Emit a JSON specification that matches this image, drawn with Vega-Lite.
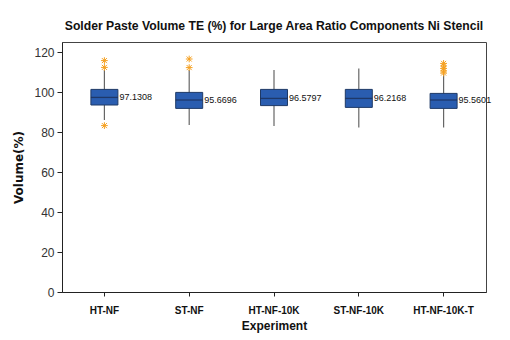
{
  "$schema": "https://vega.github.io/schema/vega-lite/v6.json",
  "width": 424,
  "height": 250,
  "autosize": "none",
  "padding": {"left": 62, "top": 42, "right": 24, "bottom": 48},
  "background": "white",
  "title": {
    "text": "Solder Paste Volume TE (%) for Large Area Ratio Components Ni Stencil",
    "font": "Liberation Sans",
    "fontSize": 12.2,
    "fontWeight": "bold",
    "color": "#111",
    "anchor": "middle",
    "offset": 10
  },
  "config": {
    "view": {"stroke": "#444", "strokeWidth": 1}
  },
  "datasets": {
    "boxes": [
      {"experiment": "HT-NF", "lo": 86, "q1": 93.5, "median": 97.3, "q3": 101.3, "hi": 111, "label": "97.1308"},
      {"experiment": "ST-NF", "lo": 83.5, "q1": 91.8, "median": 96.0, "q3": 99.8, "hi": 111, "label": "95.6696"},
      {"experiment": "HT-NF-10K", "lo": 83, "q1": 93.2, "median": 96.8, "q3": 101.3, "hi": 111, "label": "96.5797"},
      {"experiment": "ST-NF-10K", "lo": 82.2, "q1": 92.3, "median": 96.8, "q3": 101.3, "hi": 111.8, "label": "96.2168"},
      {"experiment": "HT-NF-10K-T", "lo": 82.2, "q1": 91.8, "median": 96.0, "q3": 99.3, "hi": 109, "label": "95.5601"}
    ],
    "outliers": [
      {"experiment": "HT-NF", "value": 115.7},
      {"experiment": "HT-NF", "value": 112.3},
      {"experiment": "HT-NF", "value": 83.2},
      {"experiment": "ST-NF", "value": 116.5},
      {"experiment": "ST-NF", "value": 112.2},
      {"experiment": "HT-NF-10K-T", "value": 114.3},
      {"experiment": "HT-NF-10K-T", "value": 113.0},
      {"experiment": "HT-NF-10K-T", "value": 111.8},
      {"experiment": "HT-NF-10K-T", "value": 110.5},
      {"experiment": "HT-NF-10K-T", "value": 109.5}
    ]
  },
  "encoding": {
    "x": {
      "field": "experiment",
      "type": "nominal",
      "scale": {"domain": ["HT-NF", "ST-NF", "HT-NF-10K", "ST-NF-10K", "HT-NF-10K-T"], "paddingInner": 0, "paddingOuter": 0},
      "axis": {
        "title": "Experiment",
        "labelAngle": 0,
        "labelFont": "Liberation Sans",
        "labelFontWeight": "bold",
        "labelFontSize": 10,
        "labelColor": "#111",
        "labelPadding": 9,
        "titleFont": "Liberation Sans",
        "titleFontWeight": "bold",
        "titleFontSize": 12,
        "titleColor": "#111",
        "titlePadding": 5,
        "tickSize": 4,
        "tickColor": "#222",
        "domainColor": "#222"
      }
    }
  },
  "layer": [
    {
      "data": {"name": "boxes"},
      "mark": {"type": "rule", "color": "#666", "strokeWidth": 1.2},
      "encoding": {
        "y": {
          "field": "lo",
          "type": "quantitative",
          "scale": {"domain": [0, 125], "nice": false},
          "axis": {
            "title": "Volume(%)",
            "values": [0, 20, 40, 60, 80, 100, 120],
            "grid": false,
            "labelFont": "Liberation Sans",
            "labelFontSize": 12,
            "labelColor": "#333",
            "labelPadding": 3,
            "titleFont": "DejaVu Sans",
            "titleFontWeight": "bold",
            "titleFontSize": 12,
            "titleColor": "#111",
            "titlePadding": 8,
            "tickSize": 5,
            "tickColor": "#222",
            "domainColor": "#222"
          }
        },
        "y2": {"field": "hi"}
      }
    },
    {
      "data": {"name": "boxes"},
      "mark": {"type": "bar", "size": 27, "fill": "#2a5db0", "stroke": "#1f3a66", "strokeWidth": 1},
      "encoding": {
        "y": {"field": "q1", "type": "quantitative"},
        "y2": {"field": "q3"}
      }
    },
    {
      "data": {"name": "boxes"},
      "mark": {"type": "tick", "size": 27, "thickness": 1.3, "color": "#1a2a4d"},
      "encoding": {
        "y": {"field": "median", "type": "quantitative"}
      }
    },
    {
      "data": {"name": "outliers"},
      "mark": {
        "type": "point",
        "shape": "M0,-1L0,1M-1,0L1,0M-0.75,-0.75L0.75,0.75M-0.75,0.75L0.75,-0.75",
        "filled": false,
        "size": 45,
        "stroke": "#f5a020",
        "strokeWidth": 1,
        "opacity": 1
      },
      "encoding": {
        "y": {"field": "value", "type": "quantitative"}
      }
    },
    {
      "data": {"name": "boxes"},
      "mark": {"type": "text", "align": "left", "baseline": "middle", "xOffset": 15, "font": "Liberation Sans", "fontSize": 9, "color": "#111"},
      "encoding": {
        "y": {"field": "median", "type": "quantitative"},
        "text": {"field": "label"}
      }
    }
  ]
}
